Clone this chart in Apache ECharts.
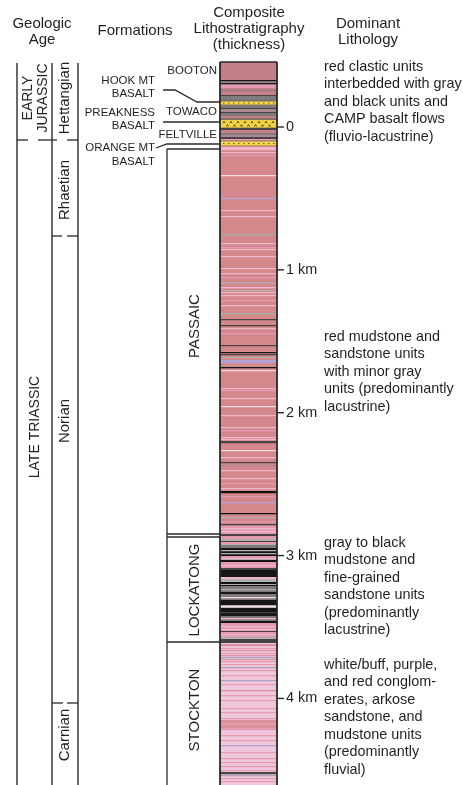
<!DOCTYPE html>
<html><head><meta charset="utf-8">
<script src="https://cdn.jsdelivr.net/npm/echarts@6/dist/echarts.min.js"></script>
<style>html,body{margin:0;padding:0;background:#fff}#c{width:463px;height:785px}</style>
</head><body><div id="c"></div>
<script>
// ---------------- DATA (depth in metres; 0 = reference level, positive downward) ----------------
const depthMin = -455;
const depthMax = 4606;
const depthTicks = [0, 1000, 2000, 3000, 4000];
const depthTickLabels = ['0', '1 km', '2 km', '3 km', '4 km'];

// beds: [top, base, lithology code]
const bootonBeds = [[-455,-329,'D'],[-329,-318,'K'],[-318,-308,'M'],[-308,-297,'K'],[-297,-273,'P'],[-273,-259,'D'],[-259,-252,'G'],[-252,-224,'D'],[-224,-217,'k'],[-217,-182,'G']];
const hookMtBeds = [[-182,-154,'Y']];
const towacoBeds = [[-154,-133,'G'],[-133,-126,'k'],[-126,-105,'M'],[-105,-98,'k'],[-98,-77,'G'],[-77,-59,'D'],[-59,-52,'k']];
const preaknessBeds = [[-52,7,'Z']];
const feltvilleBeds = [[7,21,'k'],[21,42,'D'],[42,56,'G'],[56,70,'M'],[70,84,'k'],[84,98,'P']];
const orangeMtBeds = [[98,133,'Y']];
const passaicBeds = [[133,2863,'R'],
 [140,161,'L'],[175,182,'L'],[196,203,'P'],[336,343,'W'],[497,504,'V'],[581,588,'L'],[623,630,'L'],[749,756,'T'],
 [812,819,'L'],[840,847,'P'],[854,861,'L'],[903,910,'L'],[987,994,'L'],[1022,1029,'L'],[1050,1057,'P'],[1085,1092,'g'],
 [1120,1127,'L'],[1141,1148,'g'],[1155,1162,'L'],[1176,1183,'L'],[1211,1218,'P'],[1246,1253,'L'],[1302,1309,'T'],
 [1344,1351,'k'],[1386,1393,'k'],[1407,1414,'L'],[1442,1449,'P'],[1526,1533,'k'],[1575,1582,'K'],[1589,1596,'k'],
 [1610,1617,'g'],[1631,1652,'V'],[1680,1687,'K'],[1701,1708,'W'],[1827,1834,'L'],[1841,1848,'P'],[1897,1904,'L'],
 [1953,1960,'W'],[2016,2023,'L'],[2100,2107,'L'],[2121,2128,'P'],[2170,2177,'L'],[2184,2191,'L'],[2198,2212,'k'],
 [2261,2268,'W'],[2310,2317,'L'],[2345,2352,'k'],[2366,2373,'M'],[2401,2408,'L'],[2457,2464,'L'],[2492,2499,'P'],
 [2527,2534,'L'],[2548,2562,'K'],[2583,2590,'P'],[2625,2632,'V'],[2702,2709,'K'],[2730,2737,'g'],[2758,2765,'P'],
 [2779,2786,'k'],[2793,2849,'P'],[2807,2814,'L'],[2828,2835,'L'],[2849,2863,'k']];
const lockatongBeds = [[2863,3612,'G'],
 [2863,2884,'P'],[2884,2898,'g'],[2898,2905,'k'],[2905,2919,'P'],[2919,2926,'g'],[2926,2947,'G'],[2947,3003,'K'],
 [2961,2968,'g'],[2982,2989,'g'],[3003,3017,'P'],[3017,3024,'L'],[3024,3031,'g'],[3031,3045,'K'],[3045,3087,'P'],
 [3066,3073,'L'],[3087,3101,'k'],[3101,3150,'K'],[3150,3164,'L'],[3164,3185,'g'],[3185,3199,'K'],[3199,3206,'g'],
 [3206,3213,'K'],[3213,3255,'G'],[3234,3241,'g'],[3255,3269,'K'],[3269,3311,'G'],[3290,3297,'W'],[3311,3346,'K'],
 [3346,3367,'g'],[3353,3360,'W'],[3367,3423,'K'],[3395,3402,'k'],[3423,3458,'G'],[3437,3444,'L'],[3458,3472,'K'],
 [3472,3528,'P'],[3493,3500,'L'],[3514,3521,'L'],[3528,3535,'k'],[3535,3570,'P'],[3549,3556,'L'],[3570,3584,'g'],[3584,3612,'k']];
const stocktonBeds = [[3612,4606,'S'],
 [3619,3633,'r'],[3647,3654,'P'],[3661,3668,'r'],[3682,3689,'P'],[3696,3703,'r'],[3710,3717,'B'],[3724,3731,'r'],
 [3738,3745,'P'],[3759,3766,'P'],[3780,3787,'B'],[3801,3808,'P'],[3836,3843,'P'],[3871,3878,'B'],[3899,3906,'P'],
 [3941,3948,'r'],[3976,3983,'P'],[4011,4018,'P'],[4067,4074,'P'],[4095,4102,'P'],[4137,4144,'P'],[4151,4172,'r'],
 [4172,4186,'P'],[4186,4207,'r'],[4207,4221,'P'],[4256,4263,'P'],[4291,4298,'P'],[4326,4333,'V'],[4375,4382,'P'],
 [4417,4424,'P'],[4445,4452,'P'],[4473,4480,'P'],[4501,4508,'P'],[4515,4529,'k'],[4536,4543,'B'],[4557,4564,'P'],[4578,4585,'P']];

// geologic age
const epochNames = ['EARLY\nJURASSIC', 'LATE TRIASSIC'];
const epochLabelDepths = [-203, 2100];
const stageNames = ['Hettangian', 'Rhaetian', 'Norian', 'Carnian'];
const stageLabelDepths = [-203, 441, 2058, 4256];
const ageBoundaryDepths = [91, 763, 4032];

// formations
const formationNames = ['BOOTON', 'HOOK MT\nBASALT', 'TOWACO', 'PREAKNESS\nBASALT', 'FELTVILLE', 'ORANGE MT\nBASALT', 'PASSAIC', 'LOCKATONG', 'STOCKTON'];
const formationLabelDepths = [-392, -276, -105, -52, 56, 196, 1393, 3241, 4081];
const formationBracketDepths = [154, 2849, 2870, 3605];
const hookLeaderDepths = [-259, -175];
const preaknessLeaderDepths = [-35];
const orangeLeaderDepths = [147, 119];

// dominant lithology
const lithologyTexts = [
  ['red clastic units', 'interbedded with gray', 'and black units and', 'CAMP basalt flows', '(fluvio-lacustrine)'],
  ['red mudstone and', 'sandstone units', 'with minor gray', 'units (predominantly', 'lacustrine)'],
  ['gray to black', 'mudstone and', 'fine-grained', 'sandstone units', '(predominantly', 'lacustrine)'],
  ['white/buff, purple,', 'and red conglom-', 'erates, arkose', 'sandstone, and', 'mudstone units', '(predominantly', 'fluvial)']
];
const lithologyDepths = [-420, 1470, 2912, 3766];

// ---------------- STYLE ----------------
const COLORS = {D:'#c47f88', M:'#a98892', R:'#d4888b', P:'#e59aaf', L:'#efb6c9', W:'#f7d9e3', G:'#7f7b7d', g:'#b4aeb1',
  k:'#484345', K:'#151515', T:'#9fb2a4', V:'#b3a3d4', S:'#efc7dd', r:'#d9929b', B:'#aaa3bb', Y:'#f5d548', Z:'#f5d548'};
const FONT = '"Liberation Sans", Arial, Helvetica, sans-serif';
const INK = '#231f20';
const LINE = '#2a2a2a';
const PX = {age:[17, 52, 78], epochX:35.5, stageX:65, fmX:195, bracketX:167, fmRight:217, fmRight2:155,
  leadStart:163, leadKnee:175, leadBend:197, orangeStart:156, lithX:324, lithLH:17.5, tickLen:7};
const ageDashes = [[[17,28],[38,57],[67,78]], [[52,62],[67,78]], [[52,63],[67,78]]];

const allBeds = [].concat(bootonBeds, hookMtBeds, towacoBeds, preaknessBeds, feltvilleBeds, orangeMtBeds, passaicBeds, lockatongBeds, stocktonBeds);

function txt(text, x, y, size, align, rot, lh) {
  return {type:'text', x:x, y:y, rotation: rot || 0, z2: 10,
    style:{text:text, x:0, y:0, fill:INK, font: size + 'px ' + FONT, align: align || 'center', verticalAlign:'middle',
      textAlign: align || 'center', textVerticalAlign:'middle', lineHeight: lh || Math.round(size*1.1)}};
}
function ln(x1, y1, x2, y2, w) {
  return {type:'line', shape:{x1:x1, y1:y1, x2:x2, y2:y2}, style:{stroke:LINE, lineWidth: w || 1.3}};
}

function renderBed(params, api) {
  const b = allBeds[params.dataIndex];
  const p0 = api.coord([0, b[0]]), p1 = api.coord([1, b[1]]);
  const x = p0[0], w = p1[0] - p0[0], y = p0[1], h = Math.max(1, p1[1] - p0[1]);
  const ch = [{type:'rect', shape:{x:x, y:y, width:w, height:h + 0.2}, style:{fill:COLORS[b[2]]}}];
  if (b[2] === 'Y' || b[2] === 'Z') {
    ch.push({type:'line', shape:{x1:x, y1:y, x2:x+w, y2:y}, style:{stroke:'#6b6050', lineWidth:0.8}});
    ch.push({type:'line', shape:{x1:x, y1:y+h, x2:x+w, y2:y+h}, style:{stroke:'#6b6050', lineWidth:0.8}});
    if (b[2] === 'Y') {
      for (let xx = x + 3; xx < x + w - 1; xx += 5) {
        ch.push({type:'rect', shape:{x:xx, y:y + h/2 - 0.6, width:1.4, height:1.2}, style:{fill:'#6a5a1a'}});
      }
    } else {
      const rows = [y + h*0.32, y + h*0.72];
      rows.forEach((ry, ri) => {
        for (let xx = x + 4 + ri*3.5; xx < x + w - 2; xx += 7) {
          ch.push({type:'polyline', shape:{points:[[xx-1.1, ry+1],[xx, ry-1],[xx+1.1, ry+1]]}, style:{stroke:'#4d400f', lineWidth:0.9, fill:null}});
        }
      });
    }
  }
  return {type:'group', children:ch};
}

function renderAnno(params, api) {
  const Y = d => api.coord([0, d])[1];
  const colL = api.coord([0, 0])[0], colR = api.coord([1, 0])[0];
  const yTop = Y(depthMin), yBot = Y(depthMax);
  const ch = [];
  // column outline
  ch.push(ln(colL, yTop, colL, yBot, 1.8));
  ch.push(ln(colR, yTop, colR, yBot, 1.8));
  ch.push(ln(colL, yTop, colR, yTop, 1.5));
  // depth ticks
  depthTicks.forEach(d => ch.push(ln(colR, Y(d), colR + PX.tickLen, Y(d), 1.4)));
  // age columns
  PX.age.forEach(x => ch.push(ln(x, yTop + 1, x, yBot, 1.4)));
  ageBoundaryDepths.forEach((d, i) => {
    ageDashes[i].forEach(s => ch.push(ln(s[0], Y(d), s[1], Y(d), 1.3)));
  });
  ch.push(txt(epochNames[0], PX.epochX, Y(epochLabelDepths[0]), 14, 'center', Math.PI/2, 15));
  ch.push(txt(epochNames[1], PX.epochX, Y(epochLabelDepths[1]), 14, 'center', Math.PI/2));
  stageNames.forEach((s, i) => ch.push(txt(s, PX.stageX, Y(stageLabelDepths[i]), 15, 'center', Math.PI/2)));
  // formation labels
  const fs = 11.5;
  ch.push(txt(formationNames[0], PX.fmRight, Y(formationLabelDepths[0]), fs, 'right'));
  ch.push(txt(formationNames[1], PX.fmRight2, Y(formationLabelDepths[1]), fs, 'right', 0, 13));
  ch.push(txt(formationNames[2], PX.fmRight, Y(formationLabelDepths[2]), fs, 'right'));
  ch.push(txt(formationNames[3], PX.fmRight2, Y(formationLabelDepths[3]), fs, 'right', 0, 13));
  ch.push(txt(formationNames[4], PX.fmRight, Y(formationLabelDepths[4]), fs, 'right'));
  ch.push(txt(formationNames[5], PX.fmRight2, Y(formationLabelDepths[5]), fs, 'right', 0, 14));
  for (let i = 6; i < 9; i++) ch.push(txt(formationNames[i], PX.fmX, Y(formationLabelDepths[i]), 15, 'center', Math.PI/2));
  // leaders
  ch.push({type:'polyline', shape:{points:[[PX.leadStart, Y(hookLeaderDepths[0])],[PX.leadKnee, Y(hookLeaderDepths[0])],[PX.leadBend, Y(hookLeaderDepths[1])],[colL, Y(hookLeaderDepths[1])]]}, style:{stroke:LINE, lineWidth:1.3, fill:null}});
  ch.push(ln(PX.leadStart, Y(preaknessLeaderDepths[0]), colL, Y(preaknessLeaderDepths[0]), 1.3));
  ch.push({type:'polyline', shape:{points:[[PX.orangeStart, Y(orangeLeaderDepths[0])],[PX.bracketX, Y(orangeLeaderDepths[1])],[colL, Y(orangeLeaderDepths[1])]]}, style:{stroke:LINE, lineWidth:1.3, fill:null}});
  // formation brackets
  ch.push(ln(PX.bracketX, Y(formationBracketDepths[0]), PX.bracketX, yBot, 1.3));
  formationBracketDepths.forEach(d => ch.push(ln(PX.bracketX, Y(d), colL, Y(d), 1.3)));
  // lithology descriptions
  lithologyTexts.forEach((lines, i) => {
    const y0 = Y(lithologyDepths[i]);
    lines.forEach((t, j) => ch.push(txt(t, PX.lithX, y0 + j*PX.lithLH, 14.4, 'left')));
  });
  return {type:'group', children:ch};
}

function header(text, x, y) {
  return {type:'text', x:x, y:y, style:{text:text, fill:INK, font:'15px ' + FONT, align:'center', verticalAlign:'middle', textAlign:'center', textVerticalAlign:'middle'}};
}

const option = {
  animation:false,
  backgroundColor:'#fff',
  grid:{left:220, top:62, width:57, bottom:0, show:false},
  xAxis:{type:'value', min:0, max:1, show:false},
  yAxis:{type:'value', inverse:true, min:depthMin, max:depthMax, position:'right',
    axisLine:{show:false}, splitLine:{show:false},
    axisTick:{show:false},
    axisLabel:{show:true, margin:9, customValues:depthTicks, color:INK, fontSize:14.4, fontFamily:FONT,
      formatter: v => depthTickLabels[depthTicks.indexOf(v)]}},
  graphic:[
    header('Geologic', 42, 24), header('Age', 42, 40),
    header('Formations', 135, 31),
    header('Composite', 249, 13), header('Lithostratigraphy', 249, 29), header('(thickness)', 249, 45),
    header('Dominant', 368, 24), header('Lithology', 368, 40)
  ],
  series:[
    {type:'custom', name:'beds', renderItem:renderBed, clip:true, encode:{y:[0,1]}, dimensions:['top','base'],
      data: allBeds.map(b => [b[0], b[1]]), z:2},
    {type:'custom', name:'annotations', renderItem:renderAnno, clip:false, encode:{y:0}, data:[[0]], z:5, silent:true}
  ]
};
const chart = echarts.init(document.getElementById('c'));
chart.setOption(option);
</script></body></html>
